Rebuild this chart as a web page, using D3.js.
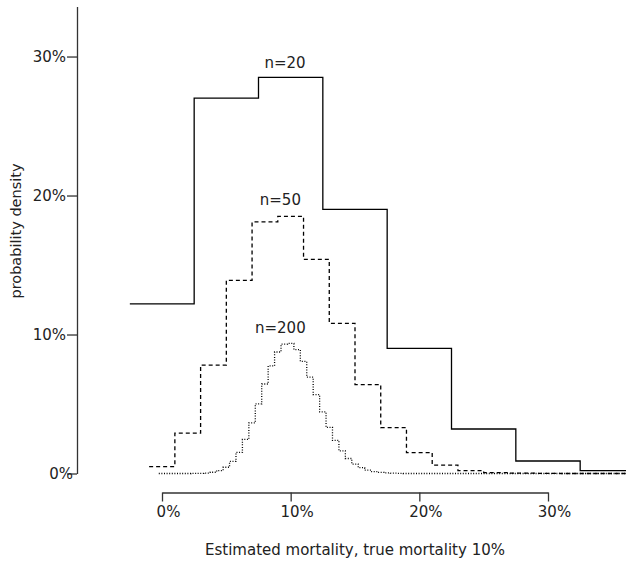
<!DOCTYPE html>
<html>
<head>
  <title>Binomial estimates</title>
  <script src='https://d3js.org/d3.v7.min.js'></script>
  <style>
    body { margin: 0; background: #fff; }
    text { font-family: 'DejaVu Sans', sans-serif; fill: #222; }
  </style>
</head>
<body>
  <script>
// probability (%) of each count k, estimated mortality = k / n
var n20 = [12.2, 27.0, 28.5, 19.0, 9.0, 3.2, 0.9, 0.2];
var n50 = [0.5, 2.9, 7.8, 13.9, 18.1, 18.5, 15.4, 10.8, 6.4, 3.3, 1.5, 0.6, 0.2, 0.07, 0.02, 0.01, 0, 0, 0];
var n200 = [0, 0, 0, 0, 0, 0.003, 0.01, 0.03, 0.09, 0.21, 0.45, 0.87, 1.52, 2.45, 3.64, 5.01,
            6.44, 7.74, 8.74, 9.31, 9.36, 8.91, 8.06, 6.93, 5.68, 4.44, 3.32, 2.38, 1.63, 1.08,
            0.68, 0.42, 0.24, 0.14, 0.08, 0.04, 0.02, 0.01, 0, 0, 0, 0, 0, 0, 0, 0, 0, 0, 0, 0,
            0, 0, 0, 0, 0, 0, 0, 0, 0, 0, 0, 0, 0, 0, 0, 0, 0, 0, 0, 0, 0, 0, 0];
var series = [
  { n: 20, values: n20, dash: null, label: 'n=20', labelAt: [0.0956, 29.2] },
  { n: 50, values: n50, dash: '4,3', label: 'n=50', labelAt: [0.092, 19.3] },
  { n: 200, values: n200, dash: '1,1.6', label: 'n=200', labelAt: [0.092, 10.1] }
];
var xTicks = [0, 0.1, 0.2, 0.3];
var yTicks = [0, 10, 20, 30];

var width = 626,
    height = 563;

var svg = d3.select('body')
  .append('svg')
  .attr('width', width)
  .attr('height', height);

// scales: 0% .. 30% on x, 0% .. 30% on y
var x = d3.scaleLinear()
    .domain([0, 0.3])
    .range([162, 548]);

var y = d3.scaleLinear()
    .domain([0, 30])
    .range([473.5, 56.5]);

// step lines, each bin centred on k/n
var line = d3.line()
    .curve(d3.curveStepAfter)
    .x(function(d) { return x(d[0]); })
    .y(function(d) { return y(d[1]); });

series.forEach(function(s) {
  var pts = s.values.map(function(v, k) { return [(k - 0.5) / s.n, v]; });
  var last = s.values.length - 1;
  pts.push([(last + 0.5) / s.n, s.values[last]]);

  svg.append('path')
    .attr('d', line(pts))
    .attr('fill', 'none')
    .attr('stroke', '#000')
    .attr('stroke-width', 1.3)
    .attr('stroke-dasharray', s.dash);

  svg.append('text')
    .attr('x', x(s.labelAt[0]))
    .attr('y', y(s.labelAt[1]))
    .attr('text-anchor', 'middle')
    .style('font-size', '15px')
    .text(s.label);
});

// y axis, line runs up past 30%
var yAxisScale = y.copy().domain([0, 33.6]).range([473.5, 6.5]);
var yAxis = svg.append('g')
  .attr('transform', 'translate(77,0)')
  .call(d3.axisLeft(yAxisScale)
    .tickValues(yTicks)
    .tickSize(10)
    .tickSizeOuter(0)
    .tickPadding(1)
    .tickFormat(function(d) { return d + '%'; }));

// x axis, only 0%..30%
var xAxis = svg.append('g')
  .attr('transform', 'translate(0,492.5)')
  .call(d3.axisBottom(x)
    .tickValues(xTicks)
    .tickSize(9)
    .tickSizeOuter(0)
    .tickPadding(5)
    .tickFormat(d3.format('.0%')));

svg.selectAll('.domain, .tick line')
  .attr('stroke', '#333')
  .attr('stroke-width', 1.3);
svg.selectAll('.tick text')
  .style('font-size', '15px')
  .style('font-family', "'DejaVu Sans', sans-serif")
  .attr('fill', '#222');
xAxis.selectAll('.tick text').attr('dx', 6);
yAxis.selectAll('.tick text').filter(function(d) { return d === 0; }).attr('dx', 7);

// axis titles
svg.append('text')
  .attr('x', 355)
  .attr('y', 555)
  .attr('text-anchor', 'middle')
  .style('font-size', '15px')
  .text('Estimated mortality, true mortality 10%');

svg.append('text')
  .attr('transform', 'translate(21,231) rotate(-90)')
  .attr('text-anchor', 'middle')
  .style('font-size', '14.5px')
  .text('probability density');
  </script>
</body>
</html>
